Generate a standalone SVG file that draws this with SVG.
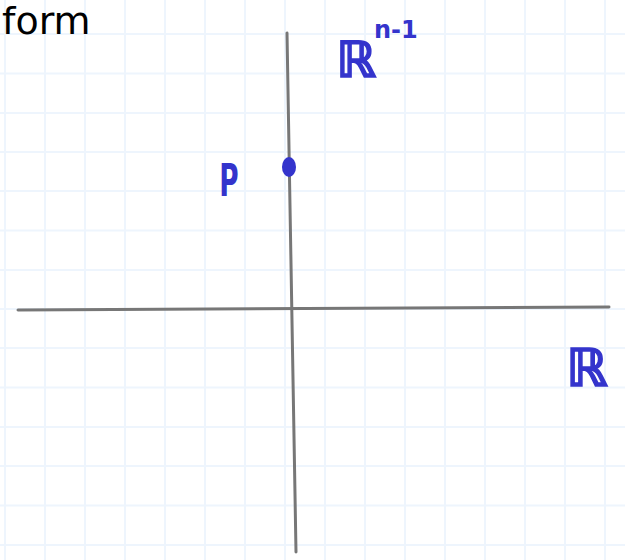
<svg xmlns="http://www.w3.org/2000/svg" width="625" height="560" viewBox="0 0 625 560">
<style>
.grid line{stroke:#eef5fd;stroke-width:2}
.axis{stroke:#777777;stroke-width:3;stroke-linecap:round;fill:none}
.blue{fill:#3434cc;font-family:"DejaVu Sans",sans-serif;font-weight:bold}
.bb{stroke:#3434cc;stroke-width:1.5}
.ink{fill:#000000;font-family:"DejaVu Sans",sans-serif}
</style>
<rect width="625" height="560" fill="#ffffff"/>
<g class="grid" id="grid">
<line x1="5" y1="0" x2="5" y2="560"/><line x1="45" y1="0" x2="45" y2="560"/><line x1="85" y1="0" x2="85" y2="560"/><line x1="125" y1="0" x2="125" y2="560"/><line x1="165" y1="0" x2="165" y2="560"/><line x1="205" y1="0" x2="205" y2="560"/><line x1="245" y1="0" x2="245" y2="560"/><line x1="285" y1="0" x2="285" y2="560"/><line x1="325" y1="0" x2="325" y2="560"/><line x1="365" y1="0" x2="365" y2="560"/><line x1="405" y1="0" x2="405" y2="560"/><line x1="445" y1="0" x2="445" y2="560"/><line x1="485" y1="0" x2="485" y2="560"/><line x1="525" y1="0" x2="525" y2="560"/><line x1="565" y1="0" x2="565" y2="560"/><line x1="605" y1="0" x2="605" y2="560"/>
<line x1="0" y1="34" x2="625" y2="34"/><line x1="0" y1="73.5" x2="625" y2="73.5"/><line x1="0" y1="113" x2="625" y2="113"/><line x1="0" y1="152" x2="625" y2="152"/><line x1="0" y1="191" x2="625" y2="191"/><line x1="0" y1="230.5" x2="625" y2="230.5"/><line x1="0" y1="270" x2="625" y2="270"/><line x1="0" y1="309" x2="625" y2="309"/><line x1="0" y1="348" x2="625" y2="348"/><line x1="0" y1="387.5" x2="625" y2="387.5"/><line x1="0" y1="427" x2="625" y2="427"/><line x1="0" y1="466" x2="625" y2="466"/><line x1="0" y1="505.5" x2="625" y2="505.5"/><line x1="0" y1="545" x2="625" y2="545"/>
</g>
<g id="axes">
<line class="axis" x1="18" y1="310" x2="609" y2="307"/>
<line class="axis" x1="287" y1="33" x2="296" y2="552"/>
</g>
<g id="point-p">
<ellipse cx="289" cy="167" rx="7" ry="10" fill="#3434cc"/>
<text class="blue" x="229" y="196" font-size="44" text-anchor="middle" transform="translate(229 0) scale(0.6 1) translate(-229 0)">P</text>
</g>
<g id="label-rn1">
<text class="blue bb" x="336" y="77" font-size="50">ℝ</text>
<text class="blue" x="374" y="38" font-size="24">n-1</text>
</g>
<g id="label-r">
<text class="blue bb" x="566" y="386" font-size="52">ℝ</text>
</g>
<g id="title">
<text class="ink" x="2" y="34" font-size="38">form</text>
</g>
</svg>
